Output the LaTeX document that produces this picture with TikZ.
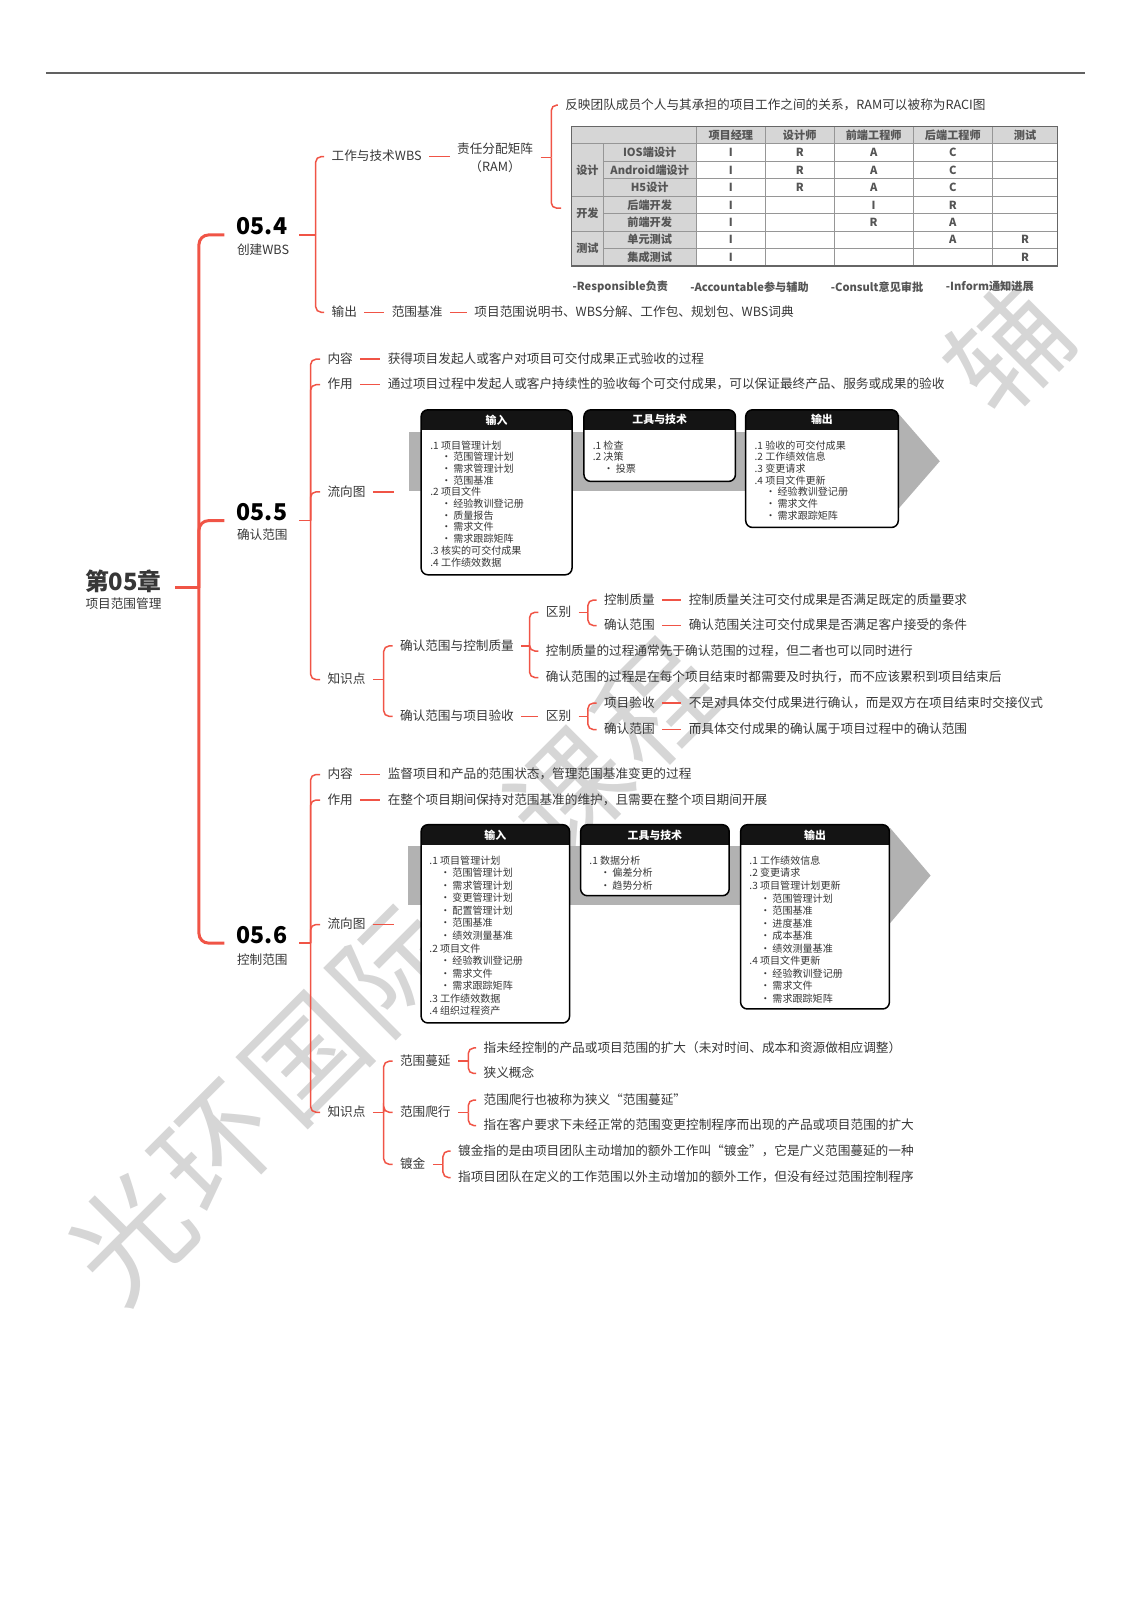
\documentclass[tikz,border=0pt]{standalone}
\usepackage{fontspec}
\setmainfont{Noto Sans CJK SC}
\usepackage{xcolor}

\definecolor{mmred}{RGB}{240,84,70}
\definecolor{txt}{RGB}{55,55,55}
\definecolor{cellgray}{RGB}{214,214,214}
\definecolor{gridgray}{RGB}{150,150,150}
\definecolor{tabtxt}{RGB}{85,85,85}
\definecolor{bandgray}{RGB}{178,178,178}
\definecolor{wmgray}{RGB}{214,214,214}

\newcommand{\fsz}[1]{\fontsize{#1}{#1}\selectfont}
\newcommand{\lstbul}{\hspace*{8pt}•\hspace{1.5pt}}

% x1, x2, top, header bottom, bottom, title, name
\newcommand{\flowbox}[7]{%
  \begin{scope}
    \clip[rounded corners=5pt] (#1,#3) rectangle (#2,#5);
    \fill[white] (#1,#3) rectangle (#2,#5);
    \fill[black!92] (#1,#3) rectangle (#2,#4);
  \end{scope}
  \draw[line width=1.1pt, rounded corners=5pt] (#1,#3) rectangle (#2,#5);
  \node[hdtxt] (#7) at ({(#1+#2)/2},{(#3+#4)/2}) {#6};
}

\begin{document}
\begin{tikzpicture}[x=0.75pt, y=-0.75pt,
  mm/.style={anchor=west, inner sep=0pt, outer sep=5.5pt, xshift=-5.5pt, text=txt, font=\fsz{9.3}, text height=7.6pt, text depth=1.4pt},
  sec/.style={anchor=west, inner sep=0pt, outer sep=9pt, xshift=-9pt, font=\bfseries\fsz{17}},
  secsub/.style={anchor=west, inner sep=0pt, text=txt, font=\fsz{9.3}},
  link/.style={draw=mmred, line width=1.1pt, rounded corners=4pt},
  trunk/.style={draw=mmred, line width=2.2pt, rounded corners=7pt},
  hdtxt/.style={text=white, font=\bfseries\fsz{8}, inner sep=0pt},
  lst/.style={anchor=north west, align=left, inner sep=0pt, text=txt},
  cell/.style={text=tabtxt, font=\bfseries\fsz{8.2}, inner sep=0pt},
  lgd/.style={text=tabtxt, font=\bfseries\fsz{8.2}, inner sep=0pt},
  wm/.style={text=wmgray, font=\fsz{86}, rotate=45, inner sep=0pt}]
\useasboundingbox (0,0) rectangle (1108,1568);

\foreach \ch/\k in {光/0,环/1,国/2,际/3,课/5,程/6,辅/10}
  \node[wm] (wm\k) at ({128+86*\k},{1212-87*\k}) {\ch};

\draw[line width=1.5pt, black!62] (45,72) -- (1063,72);

\node[font=\bfseries\fsz{17.5}, text=txt, inner sep=0pt, outer sep=10pt] (root) at (121,570) {第05章};
\node[secsub, anchor=center] (rootsub) at (121,592) {项目范围管理};
\coordinate (hub) at (195,576);
\draw[trunk] ([yshift=-4.5pt]root.east) -- (hub);

\node[sec] (n54) at (232,222) {05.4};
\node[secsub] (s54) at (232,245) {创建WBS};
\node[sec] (n55) at (232,502) {05.5};
\node[secsub] (s55) at (232,524) {确认范围};
\node[sec] (n56) at (232,916) {05.6};
\node[secsub] (s56) at (232,940) {控制范围};
\draw[trunk] (hub) |- (n54.base west);
\draw[trunk] (hub) |- (n55.base west);
\draw[trunk] (hub) |- (n56.base west);

\node[mm] (wbs) at (325,153.5) {工作与技术WBS};
\node[mm] (out54) at (325,306) {输出};
\draw[link] (n54.base east) -- ++(16,0) coordinate (b54);
\draw[link] (b54) |- (wbs.west);
\draw[link] (b54) |- (out54.west);

\node[anchor=west, align=center, inner sep=0pt, outer sep=5.5pt, xshift=-5.5pt, text=txt, font=\fontsize{9.3}{12.7}\selectfont] (ram) at (448,154.5) {责任分配矩阵\\（RAM）};
\draw[link] (wbs.east) -- (wbs.east -| ram.west);
\node[mm] (raci) at (554,103) {反映团队成员个人与其承担的项目工作之间的关系，RAM可以被称为RACI图};
\coordinate (tabin) at (550,204);
\draw[link] (ram.east) -- ++(10.5,0) coordinate (b54r);
\draw[link] (b54r) |- (raci.west);
\draw[link] (b54r) |- (tabin);

\fill[cellgray] (560,124) rectangle (1036.5,141);
\fill[cellgray] (560,141) rectangle (682.5,260.6);
\foreach \k in {1,2,4,6}
  \draw[gridgray, line width=0.6pt] (591,{141+17.09*\k}) -- (1036.5,{141+17.09*\k});
\foreach \k in {0,3,5}
  \draw[gridgray, line width=0.6pt] (560,{141+17.09*\k}) -- (1036.5,{141+17.09*\k});
\draw[gridgray, line width=0.6pt] (591,141) -- (591,260.6);
\foreach \xx in {682.5,750,817.4,895,972.6}
  \draw[gridgray, line width=0.6pt] (\xx,124) -- (\xx,260.6);
\draw[black!60, line width=1pt] (560,124) rectangle (1036.5,260.6);
\foreach \hd/\cx [count=\i] in {项目经理/716.2,设计师/783.7,前端工程师/856.2,后端工程师/933.8,测试/1004.6}
  \node[cell] (hd\i) at (\cx,132.5) {\hd};
\node[cell] (g1) at (575.7,166.6) {设计};
\node[cell] (g2) at (575.7,209.4) {开发};
\node[cell] (g3) at (575.7,243.5) {测试};
\foreach \nm/\va/\vb/\vc/\vd/\ve [count=\r] in {IOS端设计/I/R/A/C/,Android端设计/I/R/A/C/,H5设计/I/R/A/C/,后端开发/I//I/R/,前端开发/I//R/A/,单元测试/I///A/R,集成测试/I////R}{
  \node[cell] (rw\r) at (636.7,{132.45+17.09*\r}) {\nm};
  \node[cell] (c\r-1) at (716.2,{132.45+17.09*\r}) {\va};
  \node[cell] (c\r-2) at (783.7,{132.45+17.09*\r}) {\vb};
  \node[cell] (c\r-3) at (856.2,{132.45+17.09*\r}) {\vc};
  \node[cell] (c\r-4) at (933.8,{132.45+17.09*\r}) {\vd};
  \node[cell] (c\r-5) at (1004.6,{132.45+17.09*\r}) {\ve};
}
\node[lgd] (lg1) at (608,281) {-Responsible负责};
\node[lgd] (lg2) at (734.5,281) {-Accountable参与辅助};
\node[lgd] (lg3) at (859.5,281) {-Consult意见审批};
\node[lgd] (lg4) at (970,281) {-Inform通知进展};

\node[mm] (base54) at (384,306) {范围基准};
\node[mm] (bd54) at (465,306) {项目范围说明书、WBS分解、工作包、规划包、WBS词典};
\draw[link] (out54) -- (base54);
\draw[link] (base54) -- (bd54);

\node[mm] (c55) at (321,352) {内容};
\node[mm] (u55) at (321,377) {作用};
\node[mm] (f55) at (321,482) {流向图};
\node[mm] (k55) at (321,666) {知识点};
\draw[link] (n55.base east) -- ++(11,0) coordinate (b55);
\foreach \t in {c55,u55,f55,k55}
  \draw[link] (b55) |- (\t.west);
\node[mm] (d55c) at (380,352) {获得项目发起人或客户对项目可交付成果正式验收的过程};
\node[mm] (d55u) at (380,377) {通过项目过程中发起人或客户持续性的验收每个可交付成果，可以保证最终产品、服务或成果的验收};
\draw[link] (c55) -- (d55c);
\draw[link] (u55) -- (d55u);
\coordinate (fl55) at (386,482);
\draw[link] (f55) -- (fl55);

\fill[bandgray] (401,423) rectangle (881,481);
\fill[bandgray] (881,406) -- (921,452) -- (881,498) -- cycle;
\flowbox{412.7}{560.6}{401.6}{421.2}{563.3}{输入}{in55}
\flowbox{572.3}{720.7}{401.6}{421.2}{471.8}{工具与技术}{tt55}
\flowbox{730.8}{880.3}{401.6}{421.2}{516.9}{输出}{op55}
\node[lst, font=\fontsize{7.4}{8.6}\selectfont] (l55a) at (421.5,431.5) {.1 项目管理计划\\ \lstbul 范围管理计划\\ \lstbul 需求管理计划\\ \lstbul 范围基准\\ .2 项目文件\\ \lstbul 经验教训登记册\\ \lstbul 质量报告\\ \lstbul 需求文件\\ \lstbul 需求跟踪矩阵\\ .3 核实的可交付成果\\ .4 工作绩效数据};
\node[lst, font=\fontsize{7.4}{8.6}\selectfont] (l55b) at (580.7,431.5) {.1 检查\\ .2 决策\\ \lstbul 投票};
\node[lst, font=\fontsize{7.4}{8.6}\selectfont] (l55c) at (739.3,431.5) {.1 验收的可交付成果\\ .2 工作绩效信息\\ .3 变更请求\\ .4 项目文件更新\\ \lstbul 经验教训登记册\\ \lstbul 需求文件\\ \lstbul 需求跟踪矩阵};

\node[mm] (q1) at (392,633) {确认范围与控制质量};
\node[mm] (q2) at (392,702) {确认范围与项目验收};
\draw[link] (k55.east) -- ++(10.5,0) coordinate (bk55);
\draw[link] (bk55) |- (q1.west);
\draw[link] (bk55) |- (q2.west);
\node[mm] (df1) at (535,600) {区别};
\node[mm] (p1) at (535,638) {控制质量的过程通常先于确认范围的过程，但二者也可以同时进行};
\node[mm] (p2) at (535,664) {确认范围的过程是在每个项目结束时都需要及时执行，而不应该累积到项目结束后};
\draw[link] (q1.east) -- ++(8,0) coordinate (bq1);
\foreach \t in {df1,p1,p2}
  \draw[link] (bq1) |- (\t.west);
\node[mm] (kz1) at (592,588) {控制质量};
\node[mm] (qr1) at (592,613) {确认范围};
\draw[link] (df1.east) -- ++(9,0) coordinate (bdf1);
\draw[link] (bdf1) |- (kz1.west);
\draw[link] (bdf1) |- (qr1.west);
\node[mm] (t1) at (675,588) {控制质量关注可交付成果是否满足既定的质量要求};
\node[mm] (t2) at (675,613) {确认范围关注可交付成果是否满足客户接受的条件};
\draw[link] (kz1) -- (t1);
\draw[link] (qr1) -- (t2);
\node[mm] (df2) at (535,702) {区别};
\draw[link] (q2) -- (df2);
\node[mm] (xm1) at (592,689) {项目验收};
\node[mm] (qr2) at (592,715) {确认范围};
\draw[link] (df2.east) -- ++(9,0) coordinate (bdf2);
\draw[link] (bdf2) |- (xm1.west);
\draw[link] (bdf2) |- (qr2.west);
\node[mm] (t3) at (675,689) {不是对具体交付成果进行确认，而是双方在项目结束时交接仪式};
\node[mm] (t4) at (675,715) {而具体交付成果的确认属于项目过程中的确认范围};
\draw[link] (xm1) -- (t3);
\draw[link] (qr2) -- (t4);

\node[mm] (c56) at (321,759) {内容};
\node[mm] (u56) at (321,784) {作用};
\node[mm] (f56) at (321,906) {流向图};
\node[mm] (k56) at (321,1090) {知识点};
\draw[link] (n56.base east) -- ++(11,0) coordinate (b56);
\foreach \t in {c56,u56,f56,k56}
  \draw[link] (b56) |- (\t.west);
\node[mm] (d56c) at (380,759) {监督项目和产品的范围状态，管理范围基准变更的过程};
\node[mm] (d56u) at (380,784) {在整个项目期间保持对范围基准的维护，且需要在整个项目期间开展};
\draw[link] (c56) -- (d56c);
\draw[link] (u56) -- (d56u);
\coordinate (fl56) at (386,906);
\draw[link] (f56) -- (fl56);

\fill[bandgray] (400,829) rectangle (872,887);
\fill[bandgray] (872,811) -- (912,858) -- (872,905) -- cycle;
\flowbox{412.7}{558.2}{808.2}{828.4}{1002.5}{输入}{in56}
\flowbox{569}{714.6}{808.2}{828.4}{877.8}{工具与技术}{tt56}
\flowbox{725.8}{871.6}{808.2}{828.4}{988.8}{输出}{op56}
\node[lst, font=\fontsize{7.4}{9.2}\selectfont] (l56a) at (420.6,838.5) {.1 项目管理计划\\ \lstbul 范围管理计划\\ \lstbul 需求管理计划\\ \lstbul 变更管理计划\\ \lstbul 配置管理计划\\ \lstbul 范围基准\\ \lstbul 绩效测量基准\\ .2 项目文件\\ \lstbul 经验教训登记册\\ \lstbul 需求文件\\ \lstbul 需求跟踪矩阵\\ .3 工作绩效数据\\ .4 组织过程资产};
\node[lst, font=\fontsize{7.4}{9.2}\selectfont] (l56b) at (577.4,838.5) {.1 数据分析\\ \lstbul 偏差分析\\ \lstbul 趋势分析};
\node[lst, font=\fontsize{7.4}{9.2}\selectfont] (l56c) at (734.2,838.5) {.1 工作绩效信息\\ .2 变更请求\\ .3 项目管理计划更新\\ \lstbul 范围管理计划\\ \lstbul 范围基准\\ \lstbul 进度基准\\ \lstbul 成本基准\\ \lstbul 绩效测量基准\\ .4 项目文件更新\\ \lstbul 经验教训登记册\\ \lstbul 需求文件\\ \lstbul 需求跟踪矩阵};

\node[mm] (my1) at (392,1040) {范围蔓延};
\node[mm] (pc1) at (392,1090) {范围爬行};
\node[mm] (dj1) at (392,1141) {镀金};
\draw[link] (k56.east) -- ++(10.5,0) coordinate (bk56);
\foreach \t in {my1,pc1,dj1}
  \draw[link] (bk56) |- (\t.west);
\node[mm] (e1) at (474,1027) {指未经控制的产品或项目范围的扩大（未对时间、成本和资源做相应调整）};
\node[mm] (e2) at (474,1052) {狭义概念};
\node[mm] (e3) at (474,1078) {范围爬行也被称为狭义“范围蔓延”};
\node[mm] (e4) at (474,1103) {指在客户要求下未经正常的范围变更控制程序而出现的产品或项目范围的扩大};
\node[mm] (e5) at (449,1128) {镀金指的是由项目团队主动增加的额外工作叫“镀金”，它是广义范围蔓延的一种};
\node[mm] (e6) at (449,1154) {指项目团队在定义的工作范围以外主动增加的额外工作，但没有经过范围控制程序};
\draw[link] (my1.east) -- ++(10,0) coordinate (bmy1);
\draw[link] (bmy1) |- (e1.west);
\draw[link] (bmy1) |- (e2.west);
\draw[link] (pc1.east) -- ++(10,0) coordinate (bpc1);
\draw[link] (bpc1) |- (e3.west);
\draw[link] (bpc1) |- (e4.west);
\draw[link] (dj1.east) -- ++(10,0) coordinate (bdj1);
\draw[link] (bdj1) |- (e5.west);
\draw[link] (bdj1) |- (e6.west);

\end{tikzpicture}
\end{document}
